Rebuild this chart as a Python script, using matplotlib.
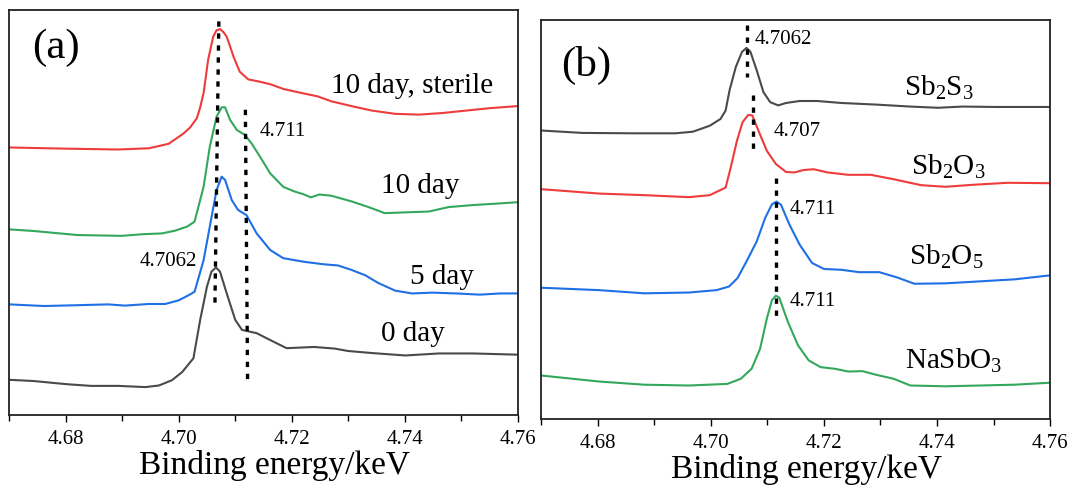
import matplotlib
matplotlib.use("Agg")
import matplotlib.pyplot as plt
from matplotlib.ticker import MultipleLocator

plt.rcParams["font.family"] = ["Liberation Serif", "DejaVu Serif"]
plt.rcParams["mathtext.fontset"] = "custom"
plt.rcParams["mathtext.rm"] = "Liberation Serif"
plt.rcParams["mathtext.it"] = "Liberation Serif:italic"

# ---- panel (a): stacked spectra (energy in keV, intensity a.u.) ----
a_sterile_e = [4.6700, 4.6803, 4.6893, 4.6947, 4.6982, 4.7008, 4.7020, 4.7032, 4.7038,
               4.7044, 4.7052, 4.7061, 4.7067, 4.7073, 4.7079, 4.7085, 4.7091, 4.7097,
               4.7108, 4.7123, 4.7144, 4.7162, 4.7186, 4.7222, 4.7246, 4.7270, 4.7306,
               4.7342, 4.7383, 4.7425, 4.7467, 4.7509, 4.7551, 4.7600]
a_sterile_i = [66.1, 65.8, 65.6, 65.9, 67.0, 69.5, 71.0, 73.3, 76.0, 79.5, 87.7, 93.4,
               95.0, 95.3, 94.6, 93.4, 91.0, 88.5, 84.8, 82.9, 82.3, 81.7, 80.5, 79.4,
               78.7, 77.5, 76.3, 75.2, 74.4, 74.2, 74.6, 75.2, 75.8, 76.3]

a_10day_e = [4.6700, 4.6743, 4.6821, 4.6899, 4.6935, 4.6970, 4.6994, 4.7015, 4.7028,
             4.7044, 4.7055, 4.7067, 4.7076, 4.7082, 4.7091, 4.7103, 4.7117, 4.7129,
             4.7144, 4.7162, 4.7185, 4.7204, 4.7222, 4.7234, 4.7249, 4.7270, 4.7306,
             4.7336, 4.7365, 4.7401, 4.7443, 4.7478, 4.7521, 4.7557, 4.7600]
a_10day_i = [45.9, 45.5, 44.5, 44.3, 44.7, 44.9, 45.6, 46.6, 47.8, 56.4, 66.3, 73.7,
             76.0, 76.0, 72.9, 70.4, 69.2, 67.1, 63.8, 59.7, 56.4, 55.3, 54.5, 53.8,
             54.5, 54.2, 52.8, 51.4, 49.9, 50.1, 50.3, 51.4, 51.9, 52.2, 52.6]

a_5day_e = [4.6700, 4.6761, 4.6821, 4.6875, 4.6905, 4.6947, 4.6976, 4.7000, 4.7018,
            4.7028, 4.7044, 4.7055, 4.7067, 4.7076, 4.7082, 4.7094, 4.7105, 4.7120,
            4.7138, 4.7162, 4.7185, 4.7222, 4.7256, 4.7282, 4.7306, 4.7330, 4.7353,
            4.7383, 4.7413, 4.7449, 4.7491, 4.7533, 4.7569, 4.7600]
a_5day_i = [27.4, 27.0, 27.2, 27.4, 27.1, 27.5, 27.5, 28.4, 29.7, 30.5, 38.3, 46.6,
            55.6, 58.9, 58.1, 53.1, 50.7, 49.4, 44.9, 40.8, 38.8, 37.9, 37.3, 37.0,
            35.9, 34.6, 32.7, 30.8, 30.1, 30.3, 30.1, 29.8, 30.1, 30.1]

a_0day_e = [4.6700, 4.6743, 4.6803, 4.6845, 4.6893, 4.6941, 4.6965, 4.6988, 4.7006,
            4.7026, 4.7038, 4.7050, 4.7058, 4.7066, 4.7073, 4.7085, 4.7100, 4.7112,
            4.7138, 4.7162, 4.7191, 4.7240, 4.7276, 4.7300, 4.7342, 4.7401, 4.7461,
            4.7521, 4.7600]
a_0day_i = [8.8, 8.5, 7.7, 7.3, 7.3, 7.0, 7.4, 8.7, 10.7, 14.1, 23.6, 31.8, 35.5,
            36.5, 35.5, 30.1, 23.6, 21.1, 20.3, 18.6, 16.6, 16.9, 16.5, 15.9, 15.4,
            14.8, 15.3, 15.3, 15.0]

# ---- panel (b): reference compounds ----
b_sb2s3_e = [4.6700, 4.6772, 4.6864, 4.6937, 4.6968, 4.6998, 4.7017, 4.7026, 4.7033,
             4.7044, 4.7055, 4.7063, 4.7070, 4.7081, 4.7093, 4.7105, 4.7119, 4.7133,
             4.7157, 4.7188, 4.7231, 4.7292, 4.7353, 4.7402, 4.7445, 4.7506, 4.7600]
b_sb2s3_i = [72.3, 71.7, 71.6, 71.6, 72.0, 73.5, 75.2, 77.3, 82.4, 88.2, 92.0, 93.0,
             92.0, 87.4, 81.9, 79.4, 78.6, 79.2, 79.7, 79.7, 79.2, 78.8, 78.3, 78.0,
             78.3, 78.2, 78.2]

b_sb2o3_e = [4.6700, 4.6802, 4.6882, 4.6961, 4.6998, 4.7026, 4.7035, 4.7046, 4.7056,
             4.7066, 4.7073, 4.7084, 4.7099, 4.7115, 4.7133, 4.7148, 4.7164, 4.7182,
             4.7206, 4.7243, 4.7283, 4.7323, 4.7372, 4.7415, 4.7464, 4.7525, 4.7600]
b_sb2o3_i = [57.6, 56.5, 56.1, 55.6, 56.1, 58.0, 63.0, 69.7, 74.4, 76.2, 76.1, 72.3,
             67.2, 63.9, 61.9, 61.8, 62.4, 62.6, 61.8, 61.2, 61.2, 60.1, 58.6, 58.2,
             58.7, 59.2, 59.1]

b_sb2o5_e = [4.6700, 4.6802, 4.6882, 4.6961, 4.7010, 4.7032, 4.7047, 4.7063, 4.7081,
             4.7096, 4.7108, 4.7116, 4.7124, 4.7139, 4.7157, 4.7179, 4.7200, 4.7231,
             4.7262, 4.7298, 4.7329, 4.7360, 4.7415, 4.7476, 4.7537, 4.7600]
b_sb2o5_i = [32.9, 32.3, 31.5, 31.7, 32.3, 33.2, 35.3, 39.5, 44.5, 50.4, 53.8, 54.5,
             53.7, 48.7, 43.7, 39.1, 37.6, 37.4, 36.8, 36.8, 35.5, 33.9, 34.0, 34.5,
             35.0, 36.0]

b_nasbo3_e = [4.6700, 4.6802, 4.6882, 4.6961, 4.7029, 4.7053, 4.7072, 4.7087, 4.7099,
              4.7108, 4.7115, 4.7121, 4.7136, 4.7154, 4.7173, 4.7194, 4.7219, 4.7243,
              4.7268, 4.7292, 4.7323, 4.7353, 4.7415, 4.7476, 4.7537, 4.7600]
b_nasbo3_i = [10.9, 9.4, 8.6, 8.4, 8.8, 10.1, 12.6, 17.6, 25.2, 29.8, 30.9, 30.4,
              24.4, 18.5, 14.7, 13.0, 12.6, 11.9, 12.0, 11.1, 10.1, 8.4, 8.2, 8.4,
              8.6, 9.1]

RED, GREEN, BLUE, GREY = "#EE3B3B", "#33A85C", "#1F6FE5", "#4A4A4A"
LABEL_FS = 21
NUM_FS = 15
DOTS = (0, (1.6, 2.0))

fig = plt.figure(figsize=(10.72, 4.91), dpi=100)
ax_a = fig.add_axes([0.0087, 0.1538, 0.4741, 0.8258])
ax_b = fig.add_axes([0.5050, 0.1466, 0.4745, 0.8127])

for ax in (ax_a, ax_b):
    ax.set_xlim(4.67, 4.76)
    ax.set_ylim(0, 100)
    ax.set_yticks([])
    ax.xaxis.set_major_locator(MultipleLocator(0.02))
    ax.xaxis.set_minor_locator(MultipleLocator(0.01))
    ax.xaxis.set_major_formatter(plt.FormatStrFormatter("%.2f"))
    ax.tick_params(axis="x", which="major", direction="out", length=5, width=1.0,
                   labelsize=NUM_FS, pad=5.5)
    ax.tick_params(axis="x", which="minor", direction="out", length=4, width=1.0)
    for spine in ax.spines.values():
        spine.set_linewidth(1.3)
        spine.set_edgecolor("#222")
    ax.set_xlabel("Binding energy/keV", fontsize=24, labelpad=1)
    ax.xaxis.label.set_x(0.522)

# panel (a)
ax_a.plot(a_sterile_e, a_sterile_i, color=RED, lw=1.5)
ax_a.plot(a_10day_e, a_10day_i, color=GREEN, lw=1.5)
ax_a.plot(a_5day_e, a_5day_i, color=BLUE, lw=1.5)
ax_a.plot(a_0day_e, a_0day_i, color=GREY, lw=1.5)
ax_a.plot([4.7071, 4.7064], [97.2, 26.4], color="black", lw=2.4, ls=DOTS)
ax_a.plot([4.7118, 4.7122], [75.4, 7.4], color="black", lw=2.4, ls=DOTS)

ax_a.text(4.6740, 88.2, "(a)", fontsize=31)
ax_a.text(4.7270, 79.6, "10 day, sterile", fontsize=LABEL_FS)
ax_a.text(4.7359, 54.8, "10 day", fontsize=LABEL_FS)
ax_a.text(4.7410, 32.4, "5 day", fontsize=LABEL_FS)
ax_a.text(4.7358, 18.4, "0 day", fontsize=LABEL_FS)
ax_a.text(4.7143, 69.0, "4.711", fontsize=NUM_FS)
ax_a.text(4.7033, 36.9, "4.7062", fontsize=NUM_FS, ha="right")

# panel (b)
ax_b.plot(b_sb2s3_e, b_sb2s3_i, color=GREY, lw=1.5)
ax_b.plot(b_sb2o3_e, b_sb2o3_i, color=RED, lw=1.5)
ax_b.plot(b_sb2o5_e, b_sb2o5_i, color=BLUE, lw=1.5)
ax_b.plot(b_nasbo3_e, b_nasbo3_i, color=GREEN, lw=1.5)
ax_b.plot([4.7064, 4.7064], [98.7, 85.7], color="black", lw=2.4, ls=DOTS)
ax_b.plot([4.7075, 4.7075], [81.1, 67.2], color="black", lw=2.4, ls=DOTS)
ax_b.plot([4.7116, 4.7116], [60.5, 24.4], color="black", lw=2.4, ls=DOTS)

ax_b.text(4.6735, 85.9, "(b)", fontsize=31)
ax_b.text(4.7078, 93.9, "4.7062", fontsize=NUM_FS)
ax_b.text(4.7111, 71.0, "4.707", fontsize=NUM_FS)
ax_b.text(4.7139, 51.3, "4.711", fontsize=NUM_FS)
ax_b.text(4.7139, 28.3, "4.711", fontsize=NUM_FS)
ax_b.text(4.7341, 81.1, r"Sb$_2$S$_3$", fontsize=LABEL_FS)
ax_b.text(4.7354, 61.3, r"Sb$_2$O$_3$", fontsize=LABEL_FS)
ax_b.text(4.7350, 38.7, r"Sb$_2$O$_5$", fontsize=LABEL_FS)
ax_b.text(4.7344, 12.6, r"NaSbO$_3$", fontsize=LABEL_FS)

fig.savefig("out.png", dpi=100, facecolor="white")
